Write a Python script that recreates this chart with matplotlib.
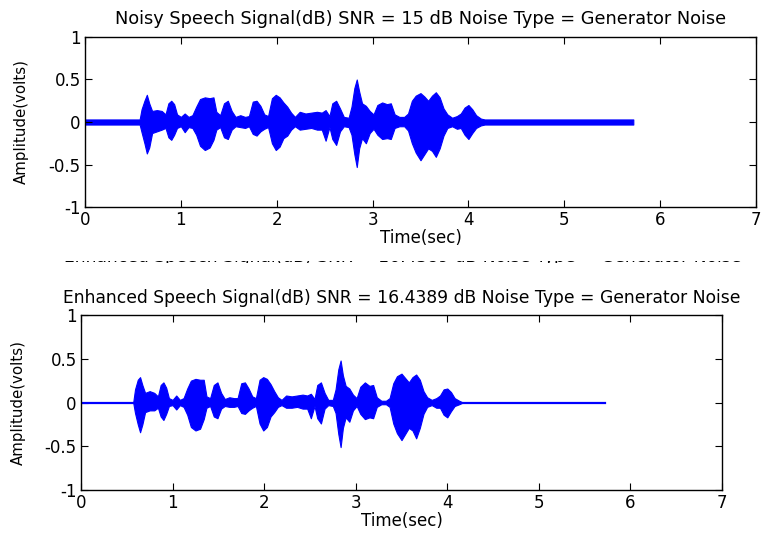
import numpy as np
import matplotlib.pyplot as plt

# envelope of the waveforms (time in sec, amplitude in volts)
t_env = [0.00, 0.57, 0.59, 0.62, 0.645, 0.67, 0.70, 0.75, 0.80, 0.84, 0.87, 0.90, 0.93, 0.96,
         1.00, 1.04, 1.08, 1.12, 1.16, 1.20, 1.25, 1.30, 1.34, 1.37, 1.41, 1.45, 1.49, 1.53,
         1.57, 1.62, 1.67, 1.71, 1.75, 1.79, 1.83, 1.87, 1.91, 1.95, 1.99, 2.03, 2.07, 2.11,
         2.15, 2.19, 2.24, 2.30, 2.36, 2.42, 2.47, 2.51, 2.55, 2.58, 2.62, 2.66, 2.70, 2.75,
         2.78, 2.81, 2.835, 2.86, 2.89, 2.93, 2.97, 3.01, 3.05, 3.10, 3.15, 3.19, 3.23, 3.28,
         3.33, 3.37, 3.41, 3.45, 3.50, 3.54, 3.58, 3.62, 3.66, 3.70, 3.74, 3.78, 3.83, 3.88,
         3.92, 3.96, 4.00, 4.04, 4.08, 4.13, 4.17, 5.72]

noisy_up = [0.03, 0.03, 0.15, 0.25, 0.32, 0.22, 0.13, 0.14, 0.13, 0.09, 0.22, 0.25, 0.21, 0.09,
            0.06, 0.10, 0.06, 0.08, 0.18, 0.27, 0.29, 0.28, 0.29, 0.12, 0.08, 0.22, 0.25, 0.13,
            0.06, 0.08, 0.06, 0.07, 0.24, 0.25, 0.19, 0.09, 0.07, 0.28, 0.32, 0.29, 0.23, 0.18,
            0.11, 0.06, 0.12, 0.10, 0.11, 0.12, 0.11, 0.14, 0.07, 0.22, 0.25, 0.16, 0.06, 0.05,
            0.18, 0.40, 0.50, 0.36, 0.22, 0.19, 0.13, 0.09, 0.20, 0.23, 0.21, 0.22, 0.09, 0.06,
            0.06, 0.10, 0.25, 0.31, 0.34, 0.30, 0.25, 0.31, 0.35, 0.29, 0.16, 0.09, 0.05, 0.07,
            0.10, 0.17, 0.20, 0.15, 0.08, 0.04, 0.03, 0.03]
noisy_lo = [-0.03, -0.03, -0.12, -0.25, -0.37, -0.30, -0.13, -0.11, -0.09, -0.07, -0.18, -0.21, -0.15, -0.07,
            -0.05, -0.12, -0.06, -0.07, -0.15, -0.28, -0.33, -0.30, -0.21, -0.09, -0.06, -0.18, -0.20, -0.09,
            -0.05, -0.06, -0.07, -0.05, -0.14, -0.16, -0.11, -0.08, -0.06, -0.25, -0.33, -0.29, -0.19, -0.16,
            -0.09, -0.05, -0.09, -0.08, -0.07, -0.09, -0.09, -0.22, -0.06, -0.20, -0.27, -0.11, -0.05, -0.06,
            -0.15, -0.38, -0.53, -0.31, -0.19, -0.25, -0.13, -0.08, -0.15, -0.20, -0.19, -0.20, -0.07, -0.05,
            -0.05, -0.10, -0.25, -0.36, -0.45, -0.38, -0.31, -0.34, -0.41, -0.31, -0.16, -0.07, -0.05, -0.08,
            -0.07, -0.15, -0.20, -0.13, -0.07, -0.04, -0.03, -0.03]

enh_up = [0.0, 0.0, 0.15, 0.26, 0.29, 0.20, 0.11, 0.13, 0.11, 0.07, 0.20, 0.23, 0.17, 0.05,
          0.03, 0.08, 0.03, 0.05, 0.16, 0.25, 0.27, 0.26, 0.26, 0.07, 0.05, 0.20, 0.23, 0.11,
          0.04, 0.06, 0.05, 0.05, 0.22, 0.23, 0.16, 0.07, 0.05, 0.26, 0.29, 0.27, 0.21, 0.13,
          0.06, 0.03, 0.08, 0.07, 0.08, 0.09, 0.08, 0.10, 0.04, 0.20, 0.23, 0.11, 0.03, 0.03,
          0.15, 0.38, 0.48, 0.31, 0.19, 0.16, 0.09, 0.05, 0.18, 0.23, 0.19, 0.20, 0.06, 0.02,
          0.02, 0.05, 0.22, 0.30, 0.33, 0.28, 0.23, 0.29, 0.32, 0.26, 0.13, 0.06, 0.03, 0.05,
          0.08, 0.15, 0.16, 0.12, 0.05, 0.02, 0.0, 0.0]
enh_lo = [0.0, 0.0, -0.12, -0.25, -0.34, -0.25, -0.11, -0.09, -0.09, -0.06, -0.16, -0.20, -0.13, -0.04,
          -0.03, -0.08, -0.03, -0.05, -0.14, -0.28, -0.32, -0.30, -0.19, -0.06, -0.04, -0.16, -0.18, -0.07,
          -0.04, -0.05, -0.05, -0.04, -0.12, -0.13, -0.09, -0.06, -0.04, -0.24, -0.32, -0.28, -0.16, -0.11,
          -0.05, -0.03, -0.06, -0.06, -0.05, -0.07, -0.07, -0.18, -0.04, -0.18, -0.24, -0.07, -0.03, -0.04,
          -0.12, -0.36, -0.51, -0.29, -0.17, -0.22, -0.09, -0.04, -0.13, -0.19, -0.17, -0.18, -0.05, -0.02,
          -0.02, -0.05, -0.24, -0.35, -0.43, -0.36, -0.29, -0.32, -0.41, -0.29, -0.13, -0.05, -0.03, -0.06,
          -0.06, -0.14, -0.17, -0.10, -0.04, -0.02, 0.0, 0.0]

title_noisy = 'Noisy Speech Signal(dB) SNR = 15 dB Noise Type = Generator Noise'
title_enh = 'Enhanced Speech Signal(dB) SNR = 16.4389 dB Noise Type = Generator Noise'
x_ticks = [0, 1, 2, 3, 4, 5, 6, 7]
y_ticks = [-1, -0.5, 0, 0.5, 1]
y_tick_labels = ['-1', '-0.5', '0', '0.5', '1']

font = ['DejaVu Sans']

fig = plt.figure(figsize=(7.62, 5.40), dpi=100)
ax1 = fig.add_axes([85/762, 1-207/540, 671/762, 170/540])
ax2 = fig.add_axes([81/762, 1-490/540, 641/762, 175/540])


def style(ax, ylab_x):
    ax.set_xlim(0, 7)
    ax.set_ylim(-1, 1)
    ax.set_xticks(x_ticks)
    ax.set_xticklabels([str(v) for v in x_ticks], family=font, fontsize=12)
    ax.set_yticks(y_ticks)
    ax.set_yticklabels(y_tick_labels, family=font, fontsize=12)
    ax.tick_params(direction='in', length=5, width=0.8, top=True, right=True, pad=3)
    for s in ax.spines.values():
        s.set_linewidth(1.0)
    ax.set_xlabel('Time(sec)', family=font, fontsize=12, labelpad=0)
    ax.set_ylabel('Amplitude(volts)', family=font, fontsize=10.8)
    ax.yaxis.set_label_coords(ylab_x, 0.5)


ax1.fill_between(t_env, noisy_lo, noisy_up, color='blue', lw=0.8)
style(ax1, (29-85)/671)
ax1.set_title(title_noisy, family=font, fontsize=12.8, pad=9)

ax2.plot([t_env[0], t_env[-1]], [0, 0], color='blue', lw=1.6)
ax2.fill_between(t_env, enh_lo, enh_up, color='blue', lw=0.8)
style(ax2, (26-81)/641)
ax2.set_title(title_enh, family=font, fontsize=12.3, pad=8.8)

# leftover of the enhanced title: only a thin strip of its lower edge shows,
# so it sits in a thin invisible axes that clips it
ax_ghost = fig.add_axes([0, 1-262.6/540, 1, 1.9/540])
ax_ghost.axis('off')
ax_ghost.text(403/762, 1-262.5/540, title_enh, family=font, fontsize=12.3,
              ha='center', va='baseline', transform=fig.transFigure, clip_on=True)

fig.savefig('out.png', dpi=100)
